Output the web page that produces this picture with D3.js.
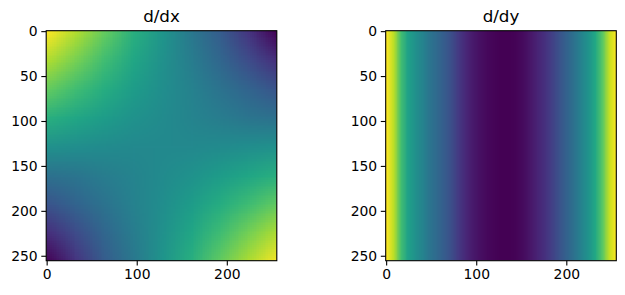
<!DOCTYPE html>
<html>
<head>
<meta charset="utf-8">
<script src="https://cdn.jsdelivr.net/npm/d3@7"></script>
<style>
  body { margin: 0; background: #fff; }
  svg { display: block; }
  svg text { font-family: "DejaVu Sans", sans-serif; }
  .axis text { font-size: 13.9px; fill: #000; }
  .axis line { stroke: #000; stroke-width: 1.1; }
  .title { font-size: 16.7px; fill: #000; text-anchor: middle; }
</style>
</head>
<body>
<svg id="chart" width="625" height="295"></svg>
<script>
// sample grid positions (pixel index) for the d/dx image, rows = y, cols = x
var dxStep = 32;
var dxPos = [0, 32, 64, 96, 128, 160, 192, 224, 256];
// d/dx values (colormap position 0..1)
var dxValues = [
  [1.00, 0.88, 0.76, 0.63, 0.52, 0.40, 0.29, 0.15, 0.00],
  [0.88, 0.79, 0.69, 0.59, 0.50, 0.42, 0.33, 0.23, 0.13],
  [0.76, 0.69, 0.62, 0.55, 0.49, 0.44, 0.38, 0.32, 0.26],
  [0.63, 0.59, 0.55, 0.51, 0.48, 0.45, 0.42, 0.39, 0.37],
  [0.50, 0.49, 0.48, 0.47, 0.47, 0.47, 0.48, 0.49, 0.50],
  [0.37, 0.39, 0.42, 0.45, 0.48, 0.51, 0.55, 0.59, 0.63],
  [0.26, 0.32, 0.38, 0.44, 0.49, 0.55, 0.62, 0.69, 0.76],
  [0.13, 0.23, 0.33, 0.42, 0.50, 0.59, 0.69, 0.79, 0.88],
  [0.00, 0.15, 0.29, 0.40, 0.52, 0.63, 0.76, 0.88, 1.00]
];

// d/dy only changes across columns: one profile, sampled every 8 pixels
var dyStep = 8;
var dyCols = d3.range(0, 257, 8);
var dyValues = [1.00, 0.90, 0.70, 0.57, 0.50, 0.45, 0.39, 0.34, 0.29,
                0.24, 0.17, 0.11, 0.07, 0.04, 0.02, 0.01, 0.00, 0.00,
                0.01, 0.03, 0.06, 0.10, 0.14, 0.19, 0.25, 0.31, 0.37,
                0.44, 0.51, 0.60, 0.74, 0.92, 1.00];

var titles = ["d/dx", "d/dy"];
var xTicks = [0, 100, 200];
var yTicks = [0, 50, 100, 150, 200, 250];
var imgSize = 256;

var svg = d3.select("#chart");
var panelW = 230.6, panelH = 230;
var panels = [{left: 46.2, top: 30.7}, {left: 385.7, top: 30.7}];

var color = d3.scaleSequential(d3.interpolateViridis).domain([0, 1]);

// turn a grid of values into a tiny png, the browser smooths it when scaled up
function gridImage(grid) {
  var rows = grid.length, cols = grid[0].length;
  var canvas = document.createElement("canvas");
  canvas.width = cols;
  canvas.height = rows;
  var ctx = canvas.getContext("2d");
  var img = ctx.createImageData(cols, rows);
  grid.forEach(function(row, r) {
    row.forEach(function(v, c) {
      var rgb = d3.rgb(color(v));
      var k = (r * cols + c) * 4;
      img.data[k] = rgb.r;
      img.data[k + 1] = rgb.g;
      img.data[k + 2] = rgb.b;
      img.data[k + 3] = 255;
    });
  });
  ctx.putImageData(img, 0, 0);
  return canvas.toDataURL();
}

panels.forEach(function(p, i) {
  var x = d3.scaleLinear().domain([-0.5, imgSize - 0.5]).range([p.left, p.left + panelW]);
  var y = d3.scaleLinear().domain([-0.5, imgSize - 0.5]).range([p.top, p.top + panelH]);

  svg.append("clipPath")
    .attr("id", "clip" + i)
    .append("rect")
    .attr("x", x(-0.5)).attr("y", y(-0.5))
    .attr("width", x(imgSize - 0.5) - x(-0.5))
    .attr("height", y(imgSize - 0.5) - y(-0.5));

  var g = svg.append("g").attr("clip-path", "url(#clip" + i + ")");

  if (i === 0) {
    var h = dxStep / 2, last = dxPos[dxPos.length - 1];
    g.append("image")
      .attr("href", gridImage(dxValues))
      .attr("x", x(dxPos[0] - h)).attr("y", y(dxPos[0] - h))
      .attr("width", x(last + h) - x(dxPos[0] - h))
      .attr("height", y(last + h) - y(dxPos[0] - h))
      .attr("preserveAspectRatio", "none");
  } else {
    var h2 = dyStep / 2, lastC = dyCols[dyCols.length - 1];
    g.append("image")
      .attr("href", gridImage([dyValues]))
      .attr("x", x(dyCols[0] - h2)).attr("y", y(-0.5))
      .attr("width", x(lastC + h2) - x(dyCols[0] - h2))
      .attr("height", y(imgSize - 0.5) - y(-0.5))
      .attr("preserveAspectRatio", "none");
  }

  // axes
  var xAxis = svg.append("g")
    .attr("class", "axis")
    .attr("transform", "translate(0," + y(imgSize - 0.5) + ")")
    .call(d3.axisBottom(x).tickValues(xTicks).tickSize(4.9).tickPadding(3.6));
  var yAxis = svg.append("g")
    .attr("class", "axis")
    .attr("transform", "translate(" + x(-0.5) + ",0)")
    .call(d3.axisLeft(y).tickValues(yTicks).tickSize(4.9).tickPadding(3.6));
  xAxis.select(".domain").remove();
  yAxis.select(".domain").remove();

  // spines
  svg.append("rect")
    .attr("x", x(-0.5)).attr("y", y(-0.5))
    .attr("width", x(imgSize - 0.5) - x(-0.5))
    .attr("height", y(imgSize - 0.5) - y(-0.5))
    .attr("fill", "none")
    .attr("stroke", "#000")
    .attr("stroke-width", 1.1);

  svg.append("text")
    .attr("class", "title")
    .attr("x", (x(-0.5) + x(imgSize - 0.5)) / 2)
    .attr("y", y(-0.5) - 8.3)
    .text(titles[i]);
});
</script>
</body>
</html>
